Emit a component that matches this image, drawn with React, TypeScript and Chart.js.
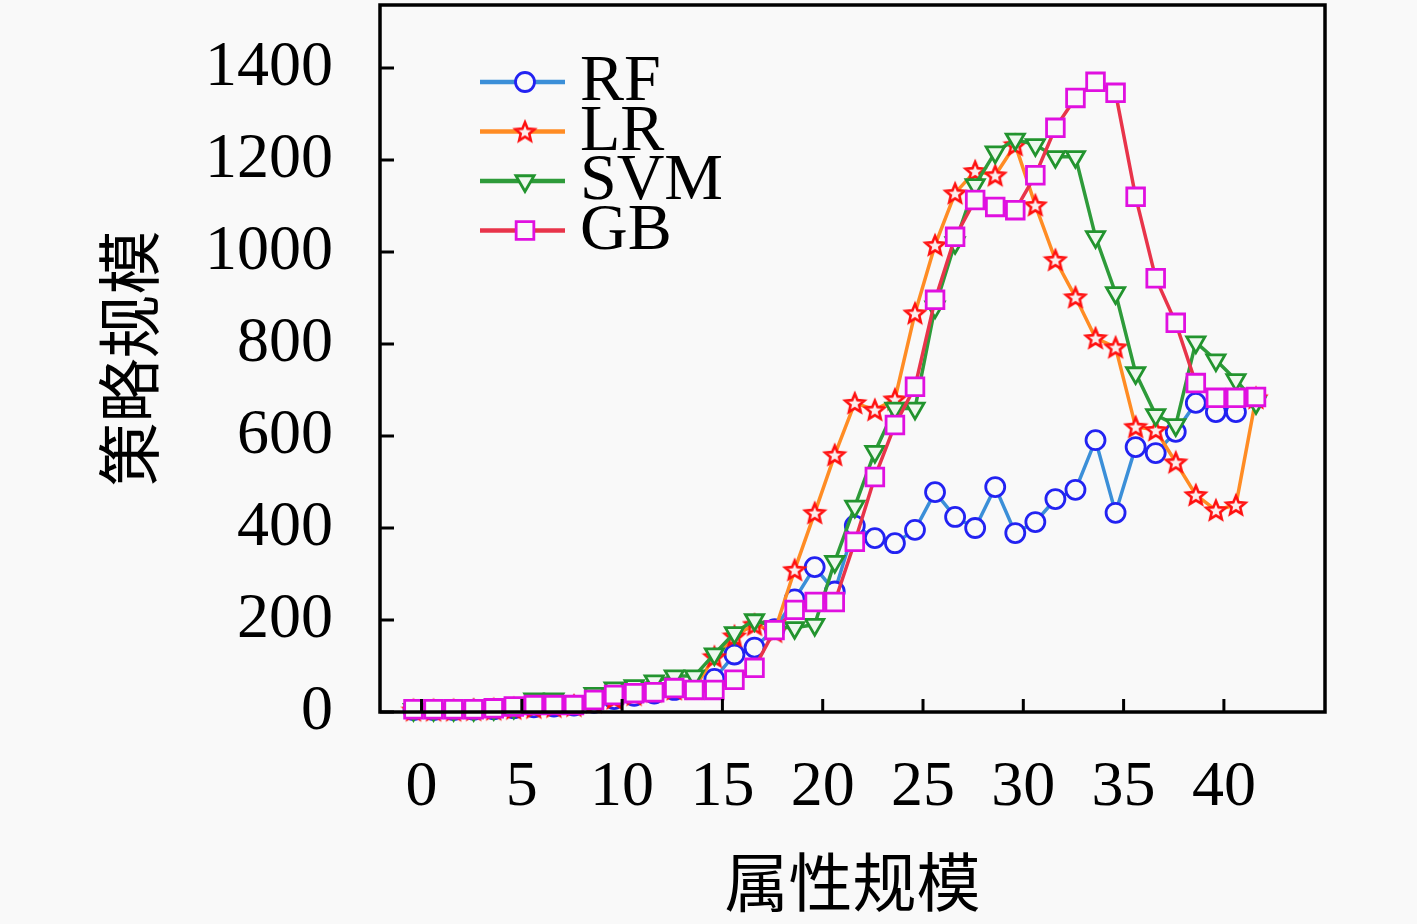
import { useEffect, useRef } from "react";
import { Chart, registerables } from "chart.js";
import { drawPoint } from "chart.js/helpers";

Chart.register(...registerables);

// x positions of the samples
const xPositions = [
  -0.4, 0.6, 1.6, 2.6, 3.6, 4.6, 5.6, 6.6, 7.6, 8.6,
  9.6, 10.6, 11.6, 12.6, 13.6, 14.6, 15.6, 16.6, 17.6, 18.6,
  19.6, 20.6, 21.6, 22.6, 23.6, 24.6, 25.6, 26.6, 27.6, 28.6,
  29.6, 30.6, 31.6, 32.6, 33.6, 34.6, 35.6, 36.6, 37.6, 38.6,
  39.6, 40.6, 41.6,
];

const rfValues = [
  4, 4, 4, 5, 6, 8, 10, 12, 14, 20,
  28, 35, 40, 48, 50, 72, 125, 140, 180, 245,
  315, 262, 405, 378, 367, 396, 478, 424, 400, 489,
  389, 413, 463, 483, 591, 433, 576, 563, 609, 672,
  652, 652,
];

const lrValues = [
  4, 4, 4, 5, 6, 8, 10, 12, 14, 22,
  30, 38, 45, 50, 52, 120, 165, 190, 175, 309,
  433, 559, 672, 657, 680, 867, 1015, 1128, 1176, 1167,
  1233, 1102, 983, 902, 813, 793, 620, 613, 543, 472,
  439, 450, 683,
];

const svmValues = [
  5, 5, 5, 5, 7, 10, 28, 28, 22, 40,
  52, 57, 67, 78, 78, 126, 172, 200, 185, 183,
  190, 327, 447, 566, 660, 660, 880, 1020, 1146, 1217,
  1245, 1233, 1207, 1207, 1033, 911, 737, 646, 624, 804,
  765, 722, 672,
];

const gbValues = [
  6, 6, 6, 6, 8, 12, 15, 15, 15, 26,
  37, 41, 43, 52, 48, 48, 70, 96, 178, 222,
  239, 239, 370, 511, 624, 707, 896, 1033, 1113, 1098,
  1091, 1167, 1270, 1335, 1370, 1346, 1120, 943, 846, 715,
  683, 683, 685,
];

const seriesNames = ["RF", "LR", "SVM", "GB"];
const xTicks = [0, 5, 10, 15, 20, 25, 30, 35, 40];
const yTicks = [0, 200, 400, 600, 800, 1000, 1200, 1400];

const toPoints = (vals: number[]) => vals.map((v, i) => ({ x: xPositions[i], y: v }));

const makeStar = () => {
  const c = document.createElement("canvas");
  c.width = 26;
  c.height = 26;
  const g = c.getContext("2d");
  if (g) {
    g.beginPath();
    for (let k = 0; k < 10; k++) {
      const r = k % 2 === 0 ? 10 : 4.5;
      const a = -Math.PI / 2 + (k * Math.PI) / 5;
      const px = 13 + r * Math.cos(a);
      const py = 13.8 + r * Math.sin(a);
      if (k === 0) g.moveTo(px, py);
      else g.lineTo(px, py);
    }
    g.closePath();
    g.fillStyle = "#fbeeee";
    g.fill();
    g.strokeStyle = "#ff1010";
    g.lineWidth = 2.6;
    g.stroke();
  }
  return c;
};

const serif = "'Liberation Serif', 'Times New Roman', serif";
const cjk = "'Noto Sans CJK SC', sans-serif";

const framePlugin = {
  id: "frame",
  afterDraw(chart: any) {
    const { ctx, chartArea: a, scales } = chart;
    ctx.save();
    ctx.strokeStyle = "#000";
    ctx.lineWidth = 3.5;
    ctx.strokeRect(a.left, a.top, a.right - a.left, a.bottom - a.top);
    ctx.lineWidth = 3;
    ctx.beginPath();
    xTicks.forEach((v) => {
      const px = scales.x.getPixelForValue(v);
      ctx.moveTo(px, a.bottom);
      ctx.lineTo(px, a.bottom - 13);
    });
    yTicks.forEach((v) => {
      const py = scales.y.getPixelForValue(v);
      ctx.moveTo(a.left, py);
      ctx.lineTo(a.left + 14, py);
    });
    ctx.stroke();
    ctx.restore();
  },
};

const legendPlugin = {
  id: "insideLegend",
  afterDraw(chart: any) {
    const { ctx, chartArea: a } = chart;
    ctx.save();
    chart.data.datasets.forEach((ds: any, i: number) => {
      const y = a.top + 77 + i * 49.5;
      const x0 = a.left + 100;
      ctx.strokeStyle = ds.borderColor;
      ctx.lineWidth = 4.5;
      ctx.beginPath();
      ctx.moveTo(x0, y);
      ctx.lineTo(x0 + 85, y);
      ctx.stroke();
      ctx.fillStyle = ds.pointBackgroundColor;
      ctx.strokeStyle = ds.pointBorderColor;
      ctx.lineWidth = ds.pointBorderWidth;
      drawPoint(
        ctx,
        {
          pointStyle: ds.pointStyle,
          rotation: ds.pointRotation || 0,
          radius: ds.pointRadius,
          borderWidth: ds.pointBorderWidth,
        } as any,
        x0 + 45,
        y
      );
      ctx.fillStyle = "#000";
      ctx.font = `66px ${serif}`;
      ctx.textBaseline = "alphabetic";
      ctx.textAlign = "left";
      ctx.fillText(ds.label, x0 + 100, y + 18);
    });
    ctx.restore();
  },
};

const App = () => {
  const chartRef = useRef<HTMLCanvasElement | null>(null);
  const chartInstanceRef = useRef<Chart | null>(null);

  useEffect(() => {
    if (!chartRef.current) return;
    const ctx = chartRef.current.getContext("2d");
    if (!ctx) return;
    if (chartInstanceRef.current) chartInstanceRef.current.destroy();

    const star = makeStar();

    const data = {
      datasets: [
        {
          label: seriesNames[0],
          data: toPoints(rfValues),
          borderColor: "#3b8fd8",
          borderWidth: 3.5,
          pointStyle: "circle",
          pointRadius: 9.5,
          pointRotation: 0,
          pointBorderColor: "#2222f2",
          pointBackgroundColor: "#f9f9f9",
          pointBorderWidth: 2.8,
          order: 4,
          clip: false as const,
        },
        {
          label: seriesNames[1],
          data: toPoints(lrValues),
          borderColor: "#ff8c24",
          borderWidth: 3.5,
          pointStyle: star,
          pointRadius: 10,
          pointRotation: 0,
          pointBorderColor: "#ff1010",
          pointBackgroundColor: "#fbeeee",
          pointBorderWidth: 2.6,
          order: 3,
          clip: false as const,
        },
        {
          label: seriesNames[2],
          data: toPoints(svmValues),
          borderColor: "#2e9b3a",
          borderWidth: 3.5,
          pointStyle: "triangle",
          pointRadius: 10.5,
          pointRotation: 180,
          pointBorderColor: "#22942e",
          pointBackgroundColor: "#eef8ee",
          pointBorderWidth: 2.8,
          order: 2,
          clip: false as const,
        },
        {
          label: seriesNames[3],
          data: toPoints(gbValues),
          borderColor: "#e8344a",
          borderWidth: 3.5,
          pointStyle: "rect",
          pointRadius: 12.5,
          pointRotation: 0,
          pointBorderColor: "#e010e0",
          pointBackgroundColor: "#f9f9f9",
          pointBorderWidth: 2.8,
          order: 1,
          clip: false as const,
        },
      ],
    };

    const options = {
      animation: false as const,
      responsive: false,
      devicePixelRatio: 1,
      layout: { autoPadding: false, padding: { top: 5, right: 92, left: 0, bottom: 0 } },
      plugins: {
        legend: { display: false },
        tooltip: { enabled: false },
      },
      scales: {
        x: {
          type: "linear" as const,
          min: -2.07,
          max: 45.04,
          afterBuildTicks: (s: any) => {
            s.ticks = xTicks.map((v) => ({ value: v }));
          },
          afterFit: (s: any) => {
            s.height = 212;
            s.paddingLeft = 0;
            s.paddingRight = 0;
          },
          grid: { display: false, drawTicks: false },
          border: { display: false },
          ticks: {
            color: "#000",
            font: { family: serif, size: 64 },
            padding: 38,
            maxRotation: 0,
            autoSkip: false,
            callback: (v: any) => String(v),
          },
          title: {
            display: true,
            text: "属性规模",
            color: "#000",
            font: { family: cjk, size: 64 },
            padding: { top: 0, bottom: 4 },
          },
        },
        y: {
          type: "linear" as const,
          min: 0,
          max: 1537,
          afterBuildTicks: (s: any) => {
            s.ticks = yTicks.map((v) => ({ value: v }));
          },
          afterFit: (s: any) => {
            s.width = 380;
            s.paddingTop = 0;
            s.paddingBottom = 0;
          },
          grid: { display: false, drawTicks: false },
          border: { display: false },
          ticks: {
            color: "#000",
            font: { family: serif, size: 64 },
            padding: 47,
            autoSkip: false,
            callback: (v: any) => String(v),
          },
          title: {
            display: true,
            text: "策略规模",
            color: "#000",
            font: { family: cjk, size: 64 },
            padding: { top: 90, bottom: 0 },
          },
        },
      },
    };

    chartInstanceRef.current = new Chart(ctx, {
      type: "line",
      data: data as any,
      options: options as any,
      plugins: [framePlugin, legendPlugin],
    });

    return () => {
      if (chartInstanceRef.current) {
        chartInstanceRef.current.destroy();
        chartInstanceRef.current = null;
      }
    };
  }, []);

  return (
    <div
      style={{
        position: "absolute",
        left: 0,
        top: 0,
        width: 1417,
        height: 924,
        background: "#f9f9f9",
      }}
    >
      <canvas ref={chartRef} width={1417} height={924} style={{ display: "block" }} />
    </div>
  );
};

export default App;
